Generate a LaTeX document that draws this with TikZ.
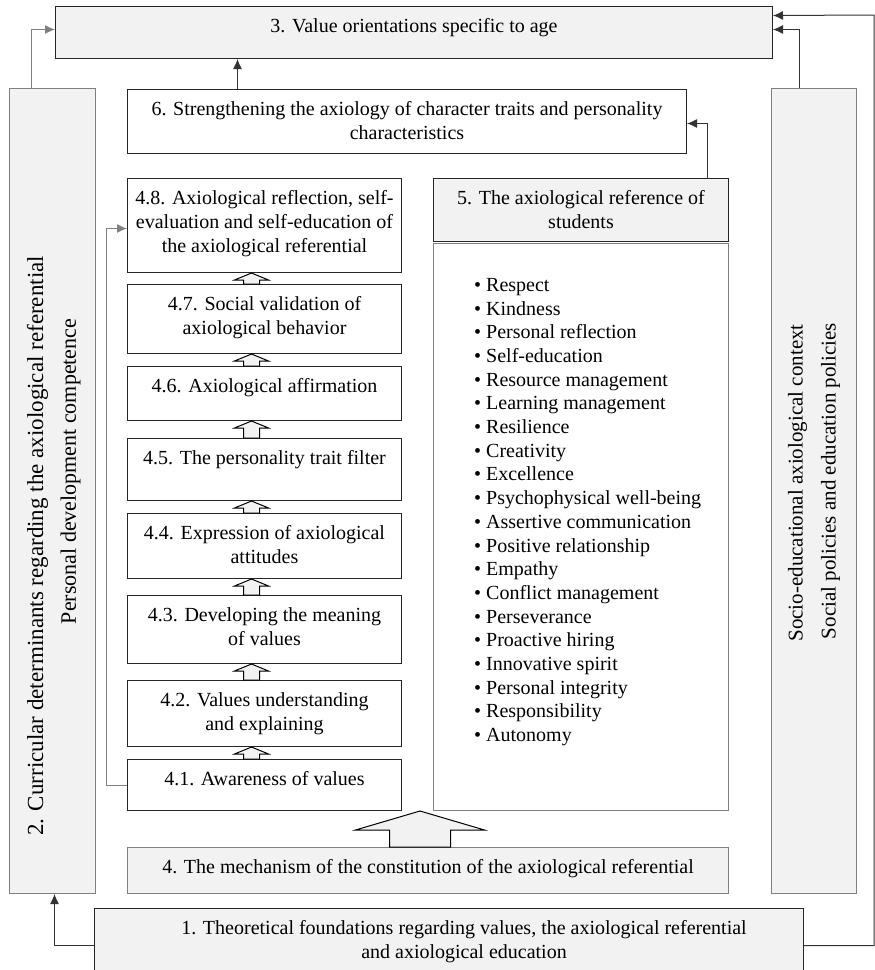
\documentclass[tikz,border=0pt]{standalone}
\usepackage{fontspec}
\setmainfont{Liberation Serif}
\usetikzlibrary{arrows.meta,positioning,calc}
\definecolor{boxgray}{HTML}{F2F2F2}

\begin{document}
\begin{tikzpicture}[x=1pt,y=-1pt,
    font=\fontsize{20}{24}\selectfont,
    box/.style 2 args={draw=black!85,fill=white,line width=1pt,anchor=north west,
      inner sep=0pt,minimum width=#1pt,minimum height=#2pt},
    greybox/.style={fill=boxgray},
    txt/.style={align=center,inner sep=0pt},
    sidetxt/.style={inner sep=0pt,rotate=90,font=\fontsize{#1}{24}\selectfont},
    conn/.style={draw=black!80,line width=1pt,-{Latex[length=10pt,width=9pt]}},
    hollow/.style={draw=black,fill=boxgray,line width=1pt}]
    \useasboundingbox (0,0) rectangle (875,970);

    % outer frame
    \node[box={717}{52},greybox] (b3) at (55,6) {};
    \node[box={86}{805},greybox,draw=gray] (b2) at (9,88) {};
    \node[box={85}{805},greybox,draw=gray] (bctx) at (771,88) {};
    \node[box={709}{74},greybox] (b1) at (94,908) {};
    \node[txt,below=12.5pt of b3.north] (t3) {3. Value orientations specific to age};
    \node[txt,below=12.5pt of b1.north,xshift=15pt] (t1)
      {1. Theoretical foundations regarding values, the axiological referential\\and axiological education};
    \node[sidetxt=23] (t2a) at ([xshift=-15pt,yshift=-55pt]b2.center)
      {2. Curricular determinants regarding the axiological referential};
    \node[sidetxt=22] (t2b) at ([xshift=18pt,yshift=19.5pt]b2.center)
      {Personal development competence};
    \node[sidetxt=21] (tctxa) at ([xshift=-16.5pt,yshift=8pt]bctx.center)
      {Socio-educational axiological context};
    \node[sidetxt=21] (tctxb) at ([xshift=16.5pt,yshift=10pt]bctx.center)
      {Social policies and education policies};

    % inner boxes
    \node[box={559}{64}] (b6) at (127,89) {};
    \node[txt,below=12.5pt of b6.north] (t6)
      {6. Strengthening the axiology of character traits and personality\\characteristics};
    \node[box={295}{63},greybox] (b5) at (433,178) {};
    \node[txt,below=12.5pt of b5.north] (t5) {5. The axiological reference of\\students};
    \node[box={295}{567},draw=gray] (blist) at (433,243) {};
    \node[txt,align=left,anchor=north west,font=\fontsize{20}{23.7}\selectfont] (vals)
      at ([xshift=41pt,yshift=-35pt]blist.north west)
      {• Respect\\• Kindness\\• Personal reflection\\• Self-education\\• Resource management\\
       • Learning management\\• Resilience\\• Creativity\\• Excellence\\
       • Psychophysical well-being\\• Assertive communication\\• Positive relationship\\
       • Empathy\\• Conflict management\\• Perseverance\\• Proactive hiring\\
       • Innovative spirit\\• Personal integrity\\• Responsibility\\• Autonomy};
    \node[box={601}{46},greybox,draw=gray] (b4) at (127,847) {};
    \node[txt,below=12.5pt of b4.north] (t4)
      {4. The mechanism of the constitution of the axiological referential};

    % stages of the mechanism
    \node[box={274}{94}] (b48) at (127,178) {};
    \node[box={274}{69}] (b47) at (127,284) {};
    \node[box={274}{54}] (b46) at (127,366) {};
    \node[box={274}{62}] (b45) at (127,438) {};
    \node[box={274}{65}] (b44) at (127,513) {};
    \node[box={274}{68}] (b43) at (127,595) {};
    \node[box={274}{66}] (b42) at (127,680) {};
    \node[box={274}{51}] (b41) at (127,759) {};
    \node[txt,below=12.5pt of b48.north] (t48)
      {4.8. Axiological reflection, self-\\evaluation and self-education of\\the axiological referential};
    \node[txt,below=12.5pt of b47.north] (t47) {4.7. Social validation of\\axiological behavior};
    \node[txt,below=12.5pt of b46.north] (t46) {4.6. Axiological affirmation};
    \node[txt,below=12.5pt of b45.north] (t45) {4.5. The personality trait filter};
    \node[txt,below=12.5pt of b44.north] (t44) {4.4. Expression of axiological\\attitudes};
    \node[txt,below=12.5pt of b43.north] (t43) {4.3. Developing the meaning\\of values};
    \node[txt,below=12.5pt of b42.north] (t42) {4.2. Values understanding\\and explaining};
    \node[txt,below=12.5pt of b41.north] (t41) {4.1. Awareness of values};

    \foreach \lo/\up in {b41/b42,b42/b43,b43/b44,b44/b45,b45/b46,b46/b47,b47/b48}
      \draw[hollow] let \p1=(\lo.north), \p2=(\up.south) in
        (\x1-21pt,\y1) -- (\x1-21pt,\y2-7pt) -- (\x1-30pt,\y2-7pt) -- (\x1-13pt,\y2)
        -- (\x1+4pt,\y2-7pt) -- (\x1-5pt,\y2-7pt) -- (\x1-5pt,\y1) -- cycle;
    \draw[hollow] let \p1=(b4.north), \p2=(b41.south) in
      (\x1-38.5pt,\y1) -- (\x1-38.5pt,\y2-19pt) -- (\x1-72.5pt,\y2-19pt) -- (\x1-8pt,\y2)
      -- (\x1+56.5pt,\y2-19pt) -- (\x1+22.5pt,\y2-19pt) -- (\x1+22.5pt,\y1) -- cycle;

    % connectors
    \coordinate (rim) at (874,15);
    \draw[conn,draw=gray] ([xshift=-21pt]b2.north) |- ([yshift=3pt]b3.west);
    \draw[conn] ([xshift=-14.5pt]bctx.north) |- ([yshift=3pt]b3.east);
    \draw[conn] (b1.east) -| (rim) -- ([yshift=17pt]b3.east);
    \draw[conn] (b1.west) -| ([xshift=2pt]b2.south);
    \draw[conn] ([xshift=-169.5pt]b6.north) -- ([xshift=-169.5pt]b6.north |- b3.south);
    \draw[conn] ([xshift=126.5pt]b5.north) |- ([yshift=-2pt]b6.east);
    \draw[conn,draw=gray] (b41.west) -- ++(-21,0) |- ([yshift=-3pt]b48.west);
  \end{tikzpicture}
\end{document}
